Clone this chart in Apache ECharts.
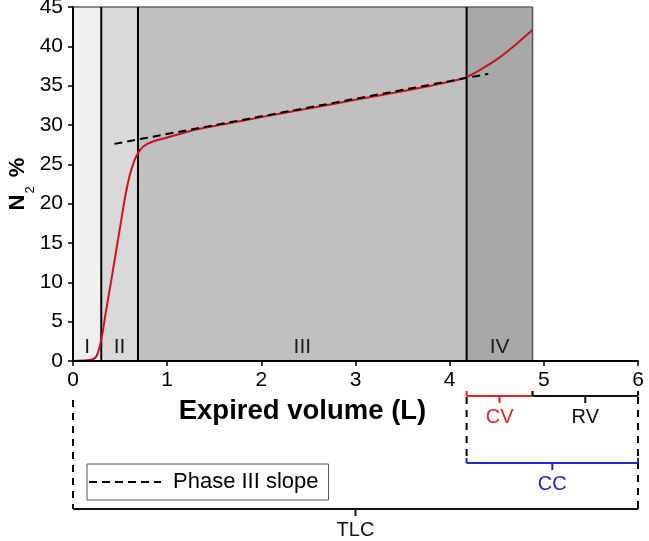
<!DOCTYPE html>
<html><head><meta charset="utf-8">
<script src="https://cdn.jsdelivr.net/npm/echarts@6/dist/echarts.min.js"></script>
<style>html,body{margin:0;padding:0;background:#fff}#c{width:649px;height:541px}</style>
</head><body><div id="c"></div>
<script>
// ---- data ----
const phaseNames = ['I', 'II', 'III', 'IV'];
const phaseStart = [0, 0.30, 0.69, 4.18];
const phaseEnd = [0.30, 0.69, 4.18, 4.88];

const volume = [0, 0.1, 0.2, 0.25, 0.3, 0.35, 0.4, 0.45, 0.5, 0.55, 0.6, 0.65, 0.69, 0.75, 0.85, 1.0, 1.3, 1.6, 2.0, 2.5, 3.0, 3.5, 3.8, 4.0, 4.18, 4.35, 4.52, 4.7, 4.88];
const n2 = [0, 0.05, 0.2, 0.6, 2.7, 6.3, 9.8, 13.4, 17.0, 20.6, 23.5, 25.4, 26.4, 27.3, 27.9, 28.4, 29.4, 30.1, 31.0, 32.1, 33.2, 34.3, 35.0, 35.5, 36.1, 37.2, 38.5, 40.2, 42.1];

const slopeVolume = [0.44, 4.41];
const slopeN2 = [27.6, 36.5];

const bracketNames = ['CV', 'RV', 'CC', 'TLC'];
const bracketStart = [4.18, 4.88, 4.18, 0];
const bracketEnd = [4.88, 6, 6, 6];

const guideVolume = [0, 4.18, 6];

// ---- styles / layout ----
const FONT = '"Liberation Sans", Arial, Helvetica, sans-serif';
const phaseColors = ['#efefef', '#d9d9d9', '#c0c0c0', '#a8a8a8'];
const bracketColors = ['#e8231c', '#111111', '#2424d8', '#111111'];
const bracketOffset = [35, 35, 102, 148];   // px below x axis
const guideTop = [39, 36, 36];
const guideBottom = [148, 102, 148];

const chart = echarts.init(document.getElementById('c'), null, {renderer: 'canvas'});

const option = {
  animation: false,
  backgroundColor: '#ffffff',
  textStyle: {fontFamily: FONT},
  grid: {left: 73, top: 7, right: 11, bottom: 180, containLabel: false, outerBoundsMode: 'none'},
  legend: {
    data: ['Phase III slope'],
    left: 87, top: 464,
    itemWidth: 72, itemHeight: 14,
    padding: [7, 10, 7, 1],
    borderColor: '#555', borderWidth: 1,
    itemStyle: {opacity: 0, borderWidth: 0},
    textStyle: {fontSize: 22, color: '#000', fontFamily: FONT, padding: [0, 0, 0, 7]}
  },
  xAxis: {
    type: 'value', min: 0, max: 6, interval: 1, z: 5,
    axisLine: {lineStyle: {color: '#000', width: 2}},
    axisTick: {show: true, length: 5, lineStyle: {color: '#000', width: 1.5}},
    axisLabel: {fontSize: 21, color: '#000', margin: 9, fontFamily: FONT},
    splitLine: {show: false},
    name: 'Expired volume (L)', nameLocation: 'middle', nameGap: 36, nameMoveOverlap: false,
    nameTextStyle: {fontSize: 27.5, fontWeight: 'bold', color: '#000', fontFamily: FONT, padding: [0, 106, 0, 0]}
  },
  yAxis: {
    type: 'value', min: 0, max: 45, interval: 5, z: 5,
    axisLine: {show: true, lineStyle: {color: '#000', width: 2}},
    axisTick: {show: true, length: 5, lineStyle: {color: '#000', width: 1.5}},
    axisLabel: {fontSize: 21, color: '#000', margin: 10, fontFamily: FONT},
    splitLine: {show: false},
    name: '{n|N}{s|2}{n| %}', nameLocation: 'middle', nameGap: 36, nameRotate: 90, nameMoveOverlap: false,
    nameTextStyle: {
      color: '#000',
      rich: {
        n: {fontSize: 22, fontWeight: 'bold', fontFamily: FONT, color: '#000', lineHeight: 30, verticalAlign: 'top'},
        s: {fontSize: 13, fontFamily: FONT, color: '#000', lineHeight: 30, verticalAlign: 'bottom', padding: [0, 3, 0, 1]}
      }
    }
  },
  series: [
    {
      type: 'custom', name: 'phases', z: 1, silent: true,
      data: phaseNames.map((n, i) => [phaseStart[i], phaseEnd[i], i]),
      encode: {x: [0, 1]},
      renderItem: function (params, api) {
        const i = api.value(2);
        const pTop = api.coord([api.value(0), 45]);
        const pBot = api.coord([api.value(1), 0]);
        const mid = api.coord([(api.value(0) + api.value(1)) / 2, 0]);
        const children = [
          {type: 'rect', shape: {x: pTop[0], y: pTop[1], width: pBot[0] - pTop[0], height: pBot[1] - pTop[1]},
           style: {fill: phaseColors[i], stroke: null}},
          {type: 'line', shape: {x1: pTop[0], y1: pTop[1], x2: pBot[0], y2: pTop[1]},
           style: {stroke: '#666', lineWidth: 1.5}},
          {type: 'text', style: {text: phaseNames[i], x: mid[0], y: mid[1] - 14, align: 'center', verticalAlign: 'middle',
            font: '21px ' + FONT, fill: '#1a1a1a'}}
        ];
        if (i > 0) {
          children.push({type: 'line', shape: {x1: pTop[0], y1: pTop[1], x2: pTop[0], y2: pBot[1]},
            style: {stroke: '#000', lineWidth: 2}});
        }
        if (i === phaseNames.length - 1) {
          children.push({type: 'line', shape: {x1: pBot[0], y1: pTop[1], x2: pBot[0], y2: pBot[1]},
            style: {stroke: '#555', lineWidth: 1.5}});
        }
        return {type: 'group', children: children};
      }
    },
    {
      type: 'line', name: 'N2', z: 3, symbol: 'none', smooth: 0.3,
      data: volume.map((v, i) => [v, n2[i]]),
      lineStyle: {color: '#c8141a', width: 2}
    },
    {
      type: 'line', name: 'Phase III slope', z: 4, symbol: 'none',
      data: slopeVolume.map((v, i) => [v, slopeN2[i]]),
      lineStyle: {color: '#000', width: 2, type: [8, 5]},
      itemStyle: {color: '#000'}
    },
    {
      type: 'custom', name: 'guides', z: 3, silent: true, clip: false,
      data: guideVolume.map((v, i) => [v, i]),
      encode: {x: 0},
      renderItem: function (params, api) {
        const i = api.value(1);
        const p = api.coord([api.value(0), 0]);
        return {type: 'line', shape: {x1: p[0], y1: p[1] + guideTop[i], x2: p[0], y2: p[1] + guideBottom[i]},
          style: {stroke: '#000', lineWidth: 2, lineDash: [7, 6]}};
      }
    },
    {
      type: 'custom', name: 'brackets', z: 4, silent: true, clip: false,
      data: bracketNames.map((n, i) => [bracketStart[i], bracketEnd[i], i]),
      encode: {x: [0, 1]},
      renderItem: function (params, api) {
        const i = api.value(2);
        const a = api.coord([api.value(0), 0]);
        const b = api.coord([api.value(1), 0]);
        const y = a[1] + bracketOffset[i];
        const cx = (a[0] + b[0]) / 2;
        const col = bracketColors[i];
        const st = {stroke: col, lineWidth: 2};
        return {type: 'group', children: [
          {type: 'line', shape: {x1: a[0], y1: y, x2: b[0], y2: y}, style: st},
          {type: 'line', shape: {x1: a[0], y1: y - 5, x2: a[0], y2: y}, style: st},
          {type: 'line', shape: {x1: b[0], y1: y - 5, x2: b[0], y2: y}, style: st},
          {type: 'line', shape: {x1: cx, y1: y, x2: cx, y2: y + 7}, style: st},
          {type: 'text', style: {text: bracketNames[i], x: cx, y: y + 21, align: 'center', verticalAlign: 'middle',
            font: '20px ' + FONT, fill: col}}
        ]};
      }
    }
  ]
};
chart.setOption(option);
</script>
</body></html>
